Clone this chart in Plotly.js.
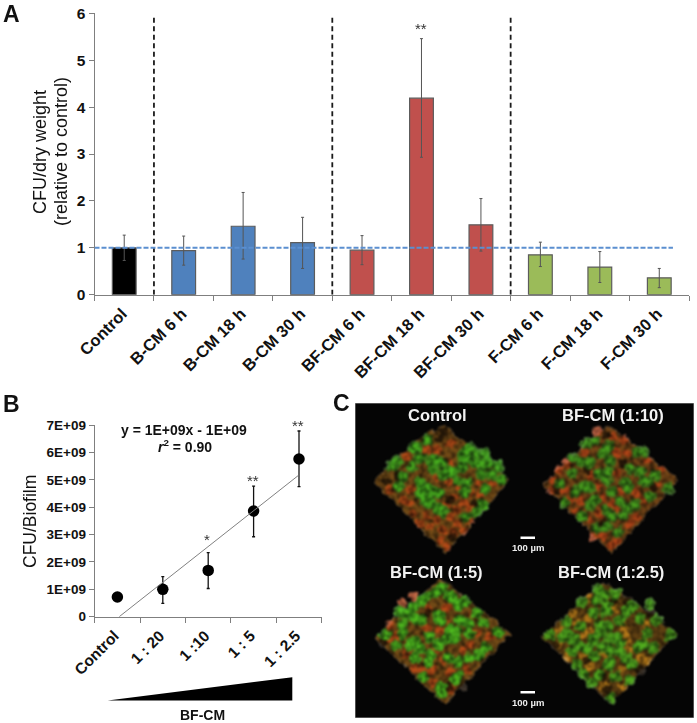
<!DOCTYPE html>
<html><head><meta charset="utf-8">
<script src="https://cdn.plot.ly/plotly-3.0.1.min.js"></script>
<style>html,body{margin:0;padding:0;background:#fff}#p{width:697px;height:723px}</style></head>
<body><div id="p"></div>
<script>
// Panel A
const catsA = ["Control","B-CM 6 h","B-CM 18 h","B-CM 30 h","BF-CM 6 h","BF-CM 18 h","BF-CM 30 h","F-CM 6 h","F-CM 18 h","F-CM 30 h"];
const valsA = [1.0,0.94,1.46,1.11,0.95,4.19,1.49,0.85,0.59,0.36];
const errUpA = [0.27,0.31,0.72,0.54,0.31,1.27,0.56,0.27,0.33,0.20];
const errDnA = [0.27,0.31,0.70,0.55,0.31,1.26,0.56,0.25,0.33,0.21];
const colorsA = ["#000000","#4F81BD","#4F81BD","#4F81BD","#C0504D","#C0504D","#C0504D","#9BBB59","#9BBB59","#9BBB59"];
const ticksA = [0,1,2,3,4,5,6];
const dividersA = [0.5,3.5,6.5];
const refLineA = [-0.5,9.23,1];
// Panel B
const catsB = ["Control","1 : 20","1 :10","1 : 5","1 : 2.5"];
const valsB = [0.72e9,1.0e9,1.69e9,3.86e9,5.76e9];
const errUpB = [0,0.46e9,0.65e9,0.91e9,1.02e9];
const errDnB = [0,0.51e9,0.66e9,0.94e9,1.01e9];
const trendX = [0.04,3.98];
const trendY = [0,5.15e9];
const ticksB = [0,1e9,2e9,3e9,4e9,5e9,6e9,7e9];
const tickTextB = ["0","1E+09","2E+09","3E+09","4E+09","5E+09","6E+09","7E+09"];
// Panel C micrograph regions (crop units = 1/3 px)
const microNames = ["Control","BF-CM (1:10)","BF-CM (1:5)","BF-CM (1:2.5)"];
const control_outline = [[10,185],[140,62],[220,15],[420,180],[225,400],[10,185]];
const control_warm = [[240,130],[225,150],[200,170],[240,190],[270,200],[300,220],[330,220],[250,230],[280,250],[300,260],[230,260],[240,290],[200,300],[170,290],[260,310],[220,330],[180,320],[250,340],[210,360],[230,380],[120,250],[100,240],[130,280],[150,310],[60,210],[120,210],[110,110],[170,90],[240,70],[200,90],[330,190],[370,190],[260,270],[280,330],[300,300]];
const control_dark = [[220,35],[210,55],[50,185],[240,240],[315,250],[80,165],[245,350]];
const control_green = [[300,85],[320,100],[345,105],[285,100],[295,118],[320,130],[275,115],[278,142],[340,135],[360,128],[335,165],[365,165],[385,140],[235,152],[248,155],[263,182],[290,188],[200,120],[185,122],[215,130],[190,148],[150,115],[130,85],[140,82],[170,60],[65,140],[80,125],[125,140],[150,185],[155,210],[170,205],[190,212],[205,220],[150,225],[165,240],[180,250],[205,265],[220,275],[175,230],[285,215],[345,205],[340,255],[320,275],[290,290],[100,170],[85,200],[395,180],[217,165]];
const mid_outline = [[8,195],[205,15],[415,178],[215,400],[8,195]];
const mid_warm = [[150,170],[230,160],[170,200],[240,215],[190,235],[220,255],[120,240],[90,240],[180,280],[145,300],[110,275],[240,270],[290,220],[310,240],[270,310],[160,350],[190,350],[215,375],[230,360],[60,150],[40,180],[35,210],[350,190],[360,150],[320,120],[260,100],[230,100],[170,35],[220,50],[135,100],[80,130],[75,210],[290,290],[250,60]];
const mid_dark = [[200,45],[50,210],[140,150],[340,200],[250,130],[190,305]];
const mid_green = [[122,125],[150,128],[100,115],[190,100],[210,122],[180,160],[205,155],[200,180],[165,60],[205,80],[140,72],[265,205],[255,185],[215,215],[150,255],[165,240],[130,200],[150,200],[105,215],[75,250],[285,255],[310,180],[325,185],[300,155],[385,205],[290,100],[310,95],[260,265],[200,270],[215,290],[125,290],[170,325],[200,320],[235,335],[250,285],[330,230],[345,165],[60,190],[240,245],[95,160],[270,145]];
const high_outline = [[15,205],[210,25],[420,190],[225,405],[15,205]];
const high_warm = [[175,115],[230,160],[225,120],[305,135],[170,175],[210,180],[200,240],[280,240],[300,225],[220,270],[155,300],[185,300],[240,305],[290,300],[130,295],[75,200],[110,250],[60,210],[360,200],[320,190],[130,80],[240,110],[190,340],[245,360],[95,100],[60,165]];
const high_dark = [[230,350],[40,215],[170,130],[280,350]];
const high_green = [[155,95],[130,110],[115,130],[90,125],[135,145],[155,150],[205,135],[210,150],[265,105],[285,95],[250,85],[270,150],[295,160],[240,180],[260,185],[255,205],[230,205],[180,200],[100,190],[120,225],[135,215],[150,235],[180,255],[175,275],[135,265],[205,225],[300,190],[340,160],[385,185],[345,235],[300,265],[265,275],[265,315],[255,330],[210,350],[215,55],[240,75],[320,130],[80,225],[45,195],[215,370],[235,265],[160,320],[195,70],[100,160],[325,255],[165,80]];
const top_outline = [[5,200],[190,35],[260,80],[410,190],[215,400],[5,200]];
const top_warm = [[150,85],[100,130],[140,145],[150,180],[70,170],[55,220],[50,190],[130,195],[255,195],[265,220],[250,170],[265,240],[320,165],[310,205],[80,260],[130,260],[190,250],[245,300],[150,290],[300,265],[115,155],[225,110],[325,270],[250,350],[190,350],[25,200]];
const top_dark = [[220,95],[330,130],[45,225],[140,270],[190,320],[300,300],[265,95],[200,360]];
const top_green = [[175,60],[190,75],[125,100],[170,90],[200,105],[200,125],[160,128],[225,70],[260,125],[240,150],[275,110],[300,145],[350,150],[85,190],[70,200],[100,210],[80,155],[125,168],[180,165],[205,170],[180,188],[210,205],[235,205],[240,220],[160,210],[120,230],[140,235],[95,245],[165,260],[185,230],[210,240],[240,245],[295,230],[310,225],[340,235],[320,190],[390,195],[210,275],[205,285],[275,285],[260,265],[110,285],[130,310],[155,335],[175,315],[225,320],[270,330],[212,385],[330,102],[30,195]];
const microOrigins = [[370,420],[540,420],[370,570],[540,570]];
const microOutlines = [control_outline,mid_outline,high_outline,top_outline];
const microWarm = [control_warm,mid_warm,high_warm,top_warm];
const microDark = [control_dark,mid_dark,high_dark,top_dark];
const microGreen = [control_green,mid_green,high_green,top_green];
const warmColors = ["#cc4a18","#c84418","#cc4a18","#d8901c"];
const baseColors = ["#724a16","#724416","#724a16","#604012"];
const greenColors = ["#3c8c1e","#3e801e","#40a01e","#46941e"];
const brightColors = ["#4cbc20","#48ac1e","#54c820","#54b420"];

const W=697,H=723;
const px=x=>x/W, py=y=>1-y/H;
const font="Liberation Sans, Arial, sans-serif";
const axisGrey="#7f7f7f";

const traces=[];
traces.push({type:"bar",x:catsA,y:valsA,xaxis:"x",yaxis:"y",
  marker:{color:colorsA,line:{color:"#5c5c5c",width:1.2}},
  error_y:{type:"data",array:errUpA,arrayminus:errDnA,color:"#555555",thickness:1,width:1.5},hoverinfo:"skip"});
traces.push({type:"scatter",mode:"lines",x:trendX,y:trendY,xaxis:"x3",yaxis:"y2",line:{color:"#808080",width:1},hoverinfo:"skip"});
traces.push({type:"scatter",mode:"markers",x:catsB,y:valsB,xaxis:"x2",yaxis:"y2",
  marker:{color:"#000",size:11.5},
  error_y:{type:"data",array:errUpB,arrayminus:errDnB,color:"#111",thickness:1.3,width:1.5},hoverinfo:"skip"});
microOrigins.forEach((o,i)=>{
  const X=a=>a.map(p=>o[0]+p[0]/3), Y=a=>a.map(p=>o[1]+p[1]/3);
  const blob=(pts,color,size,op)=>traces.push({type:"scatter",mode:"markers",x:X(pts),y:Y(pts),xaxis:"x4",yaxis:"y3",
    marker:{color:color,size:size,opacity:op,line:{width:0}},hoverinfo:"skip"});
  traces.push({type:"scatter",mode:"lines",x:X(microOutlines[i]),y:Y(microOutlines[i]),xaxis:"x4",yaxis:"y3",fill:"toself",fillcolor:baseColors[i],line:{width:0,color:baseColors[i]},hoverinfo:"skip"});
  blob(microWarm[i],warmColors[i],9,0.7);
  blob(microDark[i],"#1d1206",9,0.8);
  blob(microGreen[i],greenColors[i],12,0.9);
  blob(microGreen[i],brightColors[i],7,0.7);
});

const tickX={family:font,size:16.5,color:"#111",weight:700};
const tickY={family:font,size:15.5,color:"#111",weight:700};
const layout={width:W,height:H,margin:{l:0,r:0,t:0,b:0},paper_bgcolor:"#fff",plot_bgcolor:"rgba(0,0,0,0)",showlegend:false,bargap:0.6,
  font:{family:font},
  xaxis:{domain:[px(94.5),px(689)],anchor:"y",type:"category",tickson:"boundaries",range:[-0.5,9.5],tickangle:-45,tickfont:tickX,ticklabelstandoff:2,ticklabelshift:-2,
    showline:true,linecolor:axisGrey,linewidth:1,ticks:"outside",ticklen:5,tickcolor:axisGrey,showgrid:false,zeroline:false},
  yaxis:{domain:[py(294.7),py(13.3)],anchor:"x",range:[0,6],tickvals:ticksA,tickfont:tickY,
    showline:true,linecolor:axisGrey,linewidth:1,ticks:"outside",ticklen:5,tickcolor:axisGrey,showgrid:false,zeroline:false},
  xaxis2:{domain:[px(94.7),px(321.7)],anchor:"y2",type:"category",tickson:"boundaries",range:[-0.5,4.5],tickangle:-45,tickfont:tickY,ticklabelstandoff:3,ticklabelshift:-3,
    showline:true,linecolor:axisGrey,linewidth:1,ticks:"outside",ticklen:5,tickcolor:axisGrey,showgrid:false,zeroline:false},
  xaxis3:{domain:[px(94.7),px(321.7)],anchor:"y2",overlaying:"x2",range:[-0.5,4.5],visible:false},
  yaxis2:{domain:[py(616.7),py(425)],anchor:"x2",range:[0,7e9],tickvals:ticksB,ticktext:tickTextB,tickfont:{family:font,size:13.5,color:"#111",weight:700},
    showline:true,linecolor:axisGrey,linewidth:1,ticks:"outside",ticklen:5,tickcolor:axisGrey,showgrid:false,zeroline:false},
  xaxis4:{domain:[px(355),px(694)],anchor:"y3",range:[355,694],visible:false},
  yaxis3:{domain:[py(718),py(403)],anchor:"x4",range:[718,403],visible:false},
  shapes:[
    {type:"rect",xref:"x4",yref:"y3",x0:355,x1:694,y0:403,y1:718,fillcolor:"#050505",line:{color:"#9a9a9a",width:1},layer:"below"},
    ...dividersA.map(d=>({type:"line",xref:"x",yref:"y",x0:d,x1:d,y0:0,y1:5.98,line:{color:"#1a1a1a",width:1.8,dash:"5px,3.5px"}})),
    {type:"line",xref:"x",yref:"y",x0:refLineA[0],x1:refLineA[1],y0:refLineA[2],y1:refLineA[2],line:{color:"#5b8fd0",width:2,dash:"5px,2px"}},
    {type:"path",xref:"paper",yref:"paper",path:`M ${px(107.7)} ${py(700.5)} L ${px(292.3)} ${py(677.3)} L ${px(292.3)} ${py(700.5)} Z`,fillcolor:"#000",line:{width:0}},
    {type:"rect",xref:"x4",yref:"y3",x0:520.5,x1:535,y0:536.5,y1:539,fillcolor:"#fff",line:{width:0}},
    {type:"rect",xref:"x4",yref:"y3",x0:520.5,x1:535,y0:691,y1:693.5,fillcolor:"#fff",line:{width:0}}
  ],
  annotations:[]
};
const note=(x,y,text,size,opts={})=>layout.annotations.push(Object.assign({xref:"paper",yref:"paper",x:px(x),y:py(y),text:text,showarrow:false,
  font:{family:font,size:size,color:opts.color||"#111"},xanchor:"center",yanchor:"middle"},opts.extra||{}));
const B=s=>"<b>"+s+"</b>";
note(11,14,B("A"),23); note(11,404,B("B"),23); note(341,403,B("C"),23);
note(40,152,"CFU/dry weight",18,{extra:{textangle:-90}});
note(61,152,"(relative to control)",18,{extra:{textangle:-90}});
note(30,522,"CFU/Biofilm",17.5,{extra:{textangle:-90}});
note(184,430,B("y = 1E+09x - 1E+09"),14);
note(185,446,B("<i>r</i><sup>2</sup> = 0.90"),14);
note(202.7,715,B("BF-CM"),14);
note(421.3,29,"**",15,{color:"#333"});
note(297.7,425,"**",15,{color:"#333"});
note(253,480,"**",15,{color:"#333"});
note(207,539,"*",15,{color:"#333"});
const microLabelPos=[[437.7,415],[612.7,415],[436.7,571.7],[611,571.7]];
microNames.forEach((n,i)=>note(microLabelPos[i][0],microLabelPos[i][1],B(n),16.5,{color:"#f2f2f2"}));
note(528,547,B("100 µm"),9.5,{color:"#eee"});
note(528,702,B("100 µm"),9.5,{color:"#eee"});

Plotly.newPlot("p",traces,layout,{displayModeBar:false,staticPlot:true}).then(()=>{
  const NS="http://www.w3.org/2000/svg";
  const svg=document.querySelector("#p .main-svg");
  const defs=document.createElementNS(NS,"defs");
  defs.innerHTML=`<filter id="micro" x="-5%" y="-5%" width="110%" height="110%" color-interpolation-filters="sRGB">
    <feTurbulence type="fractalNoise" baseFrequency="0.14" numOctaves="2" seed="4" result="n"/>
    <feDisplacementMap in="SourceGraphic" in2="n" scale="7" xChannelSelector="R" yChannelSelector="G" result="d"/>
    <feTurbulence type="fractalNoise" baseFrequency="0.2" numOctaves="2" seed="9"/>
    <feColorMatrix type="matrix" values="1.5 0 0 0 0.05  1.5 0 0 0 0.05  1.5 0 0 0 0.05  0 0 0 0 1" result="g"/>
    <feComposite in="g" in2="d" operator="in" result="gc"/>
    <feBlend in="d" in2="gc" mode="multiply"/>
    <feGaussianBlur stdDeviation="1.1"/></filter>`;
  svg.appendChild(defs);
  const sub=document.querySelector("#p .subplot.x4y3 .scatterlayer");
  if(sub) sub.setAttribute("filter","url(#micro)");
});
</script></body></html>
